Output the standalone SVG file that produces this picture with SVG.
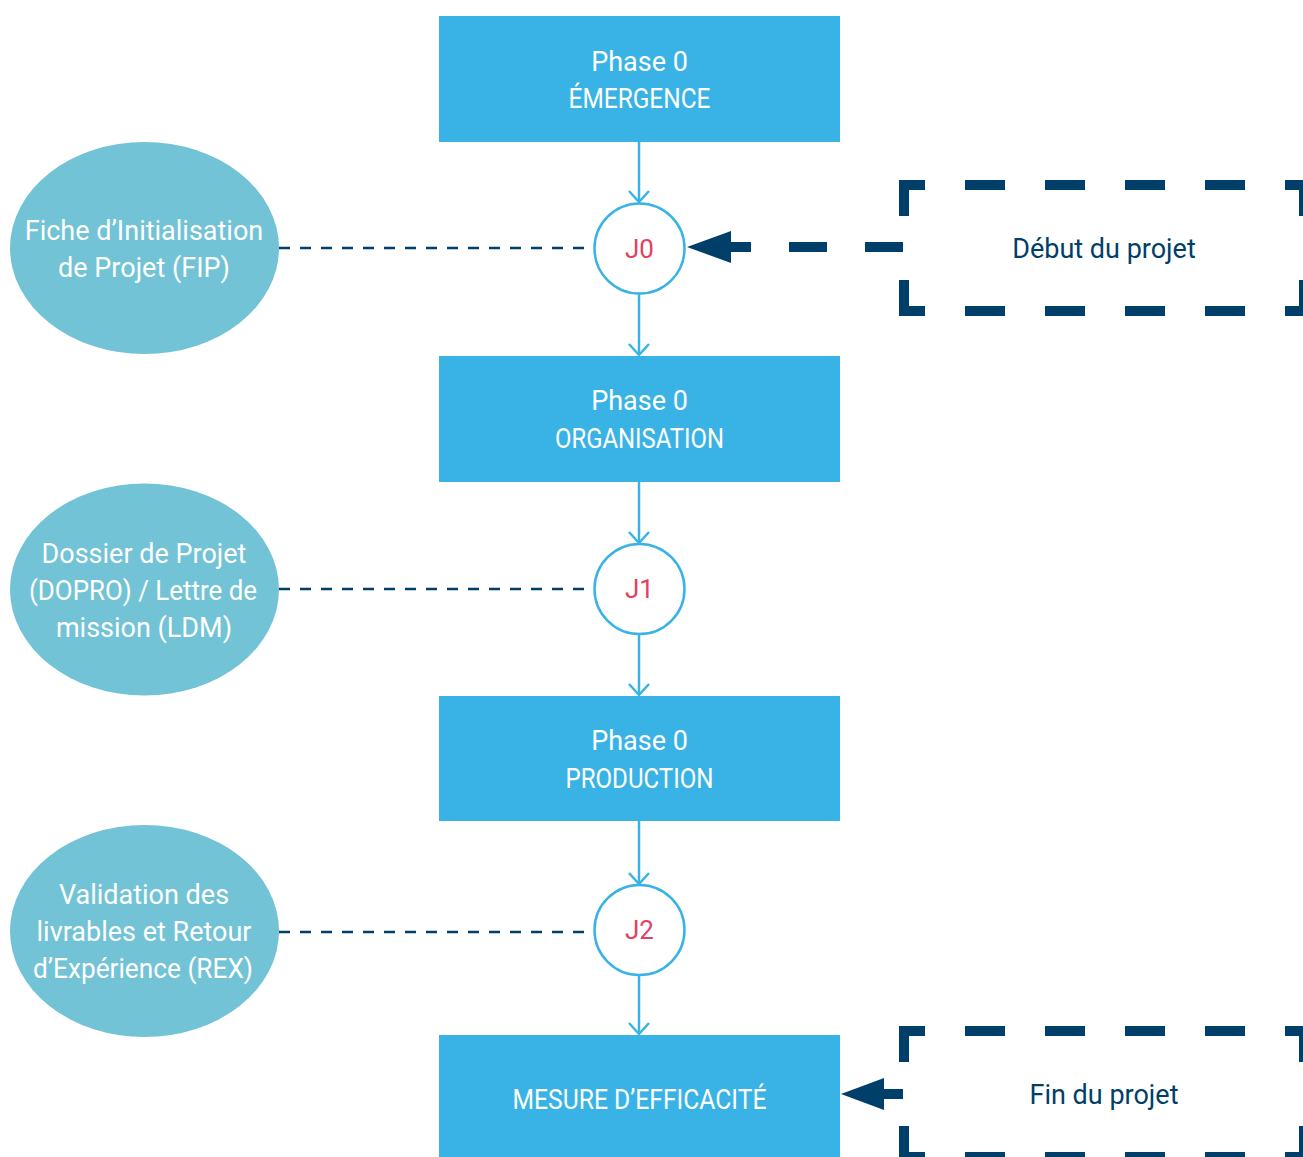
<svg xmlns="http://www.w3.org/2000/svg" width="1303" height="1157" viewBox="0 0 1303 1157">
<defs>
<style>
.box{fill:#39B3E6}
.blob{fill:#72C3D5}
.jal{fill:#ffffff;stroke:#39B3E6;stroke-width:2.5}
.t{font-family:Roboto,"Liberation Sans",sans-serif;font-size:27px;fill:#ffffff;text-anchor:middle}
.jt{font-family:Roboto,"Liberation Sans",sans-serif;font-size:26px;fill:#E2415F;text-anchor:middle}
.nt{font-family:Roboto,"Liberation Sans",sans-serif;font-size:27px;fill:#003F69;text-anchor:middle}
.flow{stroke:#39B3E6;stroke-width:2.5;fill:none;marker-end:url(#chev)}
.thin{stroke:#003F69;stroke-width:2.5;stroke-dasharray:11 10;fill:none}
.thick{stroke:#003F69;stroke-width:10;fill:none}
.head{fill:#003F69}
</style>
<marker id="chev" markerUnits="userSpaceOnUse" markerWidth="30" markerHeight="30" viewBox="-15 -15 30 30" refX="0" refY="0" orient="auto">
<path d="M-11,-10 L0,0 L-11,10" fill="none" stroke="#39B3E6" stroke-width="2.5"/>
</marker>
</defs>

<g id="connectors">
<line class="flow" x1="639" y1="142" x2="639" y2="202"/>
<line class="flow" x1="639" y1="294" x2="639" y2="355"/>
<line class="flow" x1="639" y1="482" x2="639" y2="543"/>
<line class="flow" x1="639" y1="634" x2="639" y2="695"/>
<line class="flow" x1="639" y1="821" x2="639" y2="884"/>
<line class="flow" x1="639" y1="975" x2="639" y2="1034"/>
<line class="thin" x1="279" y1="248" x2="594" y2="248"/>
<line class="thin" x1="279" y1="589" x2="594" y2="589"/>
<line class="thin" x1="279" y1="932" x2="594" y2="932"/>
<line class="thick" x1="903" y1="247" x2="731" y2="247" stroke-dasharray="38 38"/>
<polygon class="head" points="687,247 731,231 731,263"/>
<line class="thick" x1="903" y1="1094" x2="884" y2="1094"/>
<polygon class="head" points="841,1094 884,1078 884,1110"/>
</g>

<g id="phase-emergence">
<rect class="box" x="439" y="16" width="401" height="126"/>
<text class="t" x="639.5" y="71">Phase 0</text>
<text class="t" x="639.5" y="108" textLength="142" lengthAdjust="spacingAndGlyphs">ÉMERGENCE</text>
</g>
<g id="phase-organisation">
<rect class="box" x="439" y="356" width="401" height="126"/>
<text class="t" x="639.5" y="410">Phase 0</text>
<text class="t" x="639.5" y="448" textLength="169" lengthAdjust="spacingAndGlyphs">ORGANISATION</text>
</g>
<g id="phase-production">
<rect class="box" x="439" y="696" width="401" height="125"/>
<text class="t" x="639.5" y="750">Phase 0</text>
<text class="t" x="639.5" y="788" textLength="148" lengthAdjust="spacingAndGlyphs">PRODUCTION</text>
</g>
<g id="mesure">
<rect class="box" x="439" y="1035" width="401" height="126"/>
<text class="t" x="639.5" y="1109" textLength="254" lengthAdjust="spacingAndGlyphs">MESURE D’EFFICACITÉ</text>
</g>

<g id="j0">
<circle class="jal" cx="639.5" cy="248.5" r="45"/>
<text class="jt" x="639.5" y="258">J0</text>
</g>
<g id="j1">
<circle class="jal" cx="639.5" cy="589" r="45"/>
<text class="jt" x="639.5" y="598">J1</text>
</g>
<g id="j2">
<circle class="jal" cx="639.5" cy="930" r="45"/>
<text class="jt" x="639.5" y="939">J2</text>
</g>

<g id="fip">
<ellipse class="blob" cx="144.5" cy="248" rx="134.5" ry="106"/>
<text class="t" x="144" y="240">Fiche d’Initialisation</text>
<text class="t" x="144" y="277">de Projet (FIP)</text>
</g>
<g id="dopro">
<ellipse class="blob" cx="144.5" cy="589.5" rx="134.5" ry="106"/>
<text class="t" x="144" y="563">Dossier de Projet</text>
<text class="t" x="143" y="600" textLength="228" lengthAdjust="spacingAndGlyphs">(DOPRO) / Lettre de</text>
<text class="t" x="144" y="637">mission (LDM)</text>
</g>
<g id="rex">
<ellipse class="blob" cx="144.5" cy="931" rx="134.5" ry="106"/>
<text class="t" x="144" y="904">Validation des</text>
<text class="t" x="144" y="941">livrables et Retour</text>
<text class="t" x="143" y="978" textLength="220" lengthAdjust="spacingAndGlyphs">d’Expérience (REX)</text>
</g>

<g id="debut">
<path class="thick" d="M904,216 V185 H925 M965,185 H1005 M1045,185 H1085 M1125,185 H1165 M1205,185 H1245 M1285,185 H1304 V216 M904,280 V311 H925 M965,311 H1005 M1045,311 H1085 M1125,311 H1165 M1205,311 H1245 M1285,311 H1304 V280"/>
<text class="nt" x="1104" y="258">Début du projet</text>
</g>
<g id="fin">
<path class="thick" d="M904,1062 V1031 H925 M965,1031 H1005 M1045,1031 H1085 M1125,1031 H1165 M1205,1031 H1245 M1285,1031 H1304 V1062 M904,1126 V1157 H925 M965,1157 H1005 M1045,1157 H1085 M1125,1157 H1165 M1205,1157 H1245 M1285,1157 H1304 V1126"/>
<text class="nt" x="1104" y="1104">Fin du projet</text>
</g>
</svg>
